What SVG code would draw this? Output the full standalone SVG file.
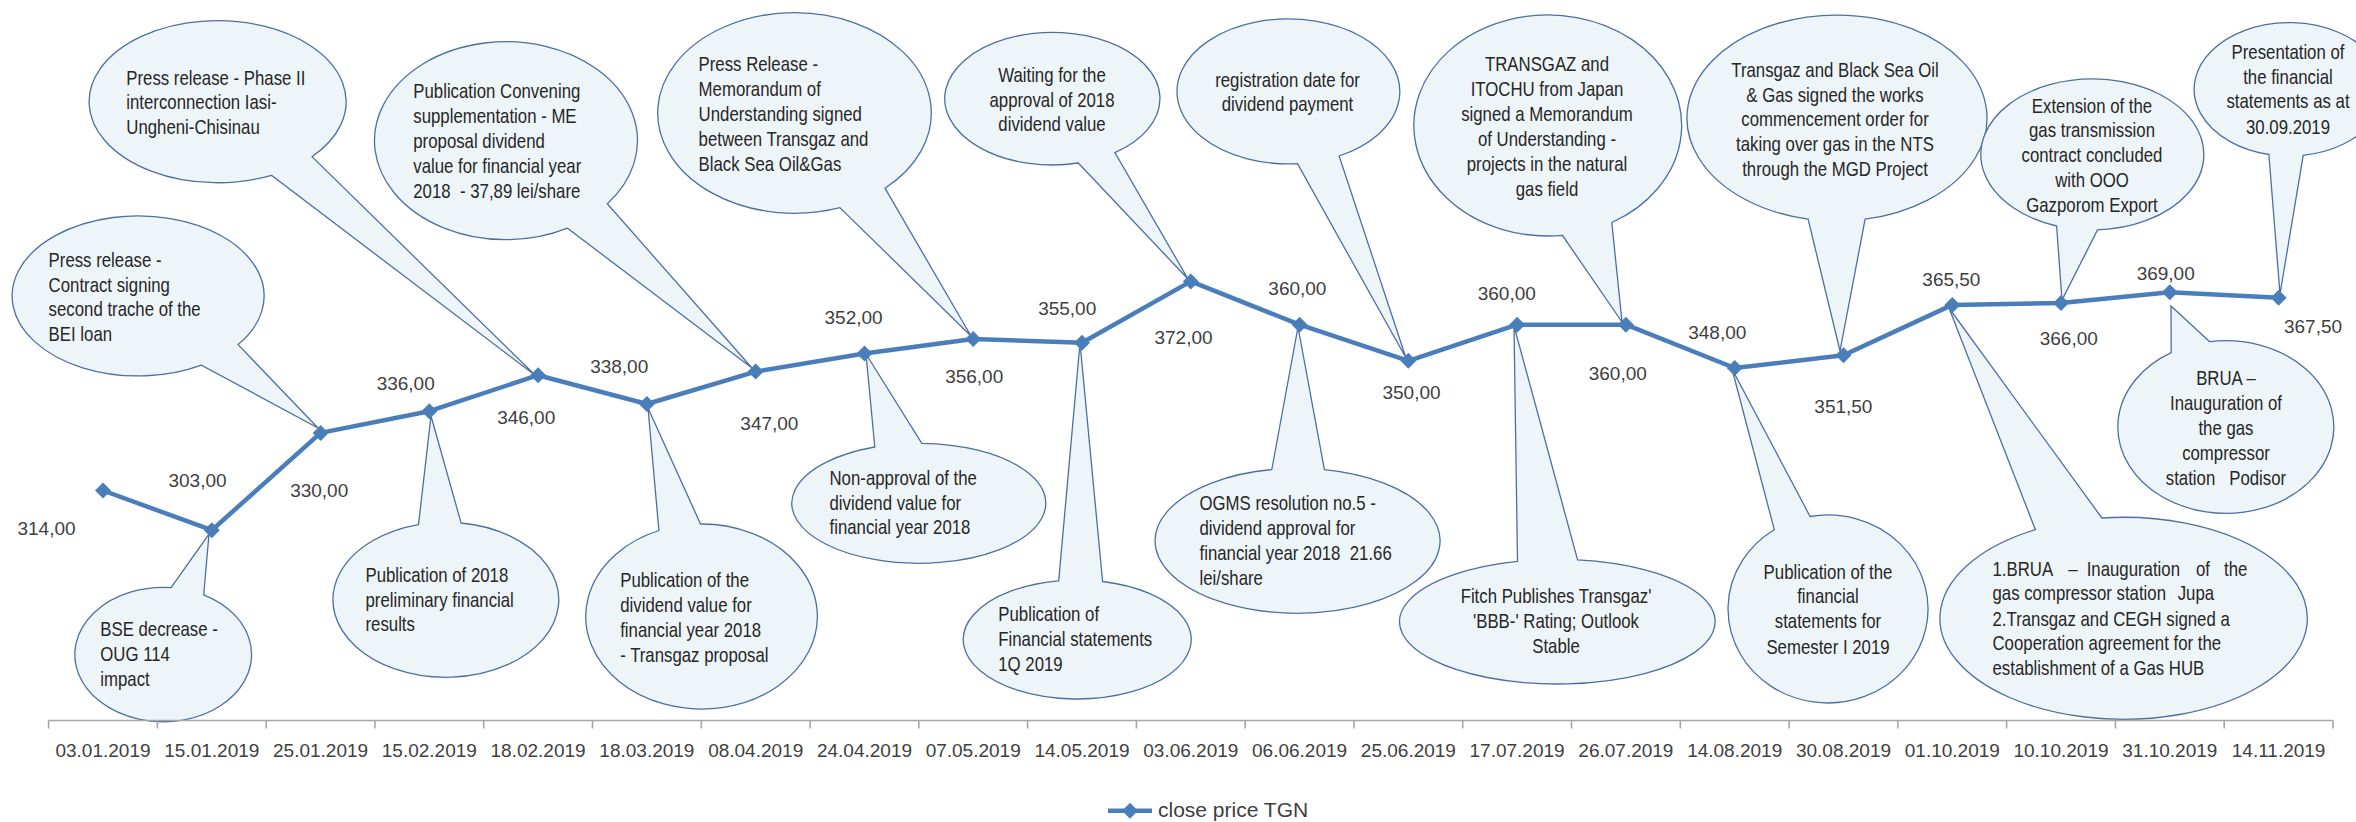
<svg xmlns="http://www.w3.org/2000/svg" width="2356" height="822" viewBox="0 0 2356 822">
<style>
.bub path{fill:#EEF5F9;stroke:#4C6FA3;stroke-width:1.3}
.bt{font-family:'Liberation Sans',sans-serif;font-size:20px;fill:#262626}
.c{text-anchor:middle}
.val{font-family:'Liberation Sans',sans-serif;font-size:19px;fill:#404040;text-anchor:middle}
.dt{font-family:'Liberation Sans',sans-serif;font-size:19px;fill:#404040;text-anchor:middle}
.axis{stroke:#A6A6A6;stroke-width:1.6;fill:none}
.series{fill:none;stroke:#4A7EBB;stroke-width:4.5;stroke-linejoin:round}
.leg{font-family:'Liberation Sans',sans-serif;font-size:21px;fill:#404040}
</style>
<defs>
<marker id="dm" markerUnits="userSpaceOnUse" markerWidth="20" markerHeight="20" refX="10" refY="10" overflow="visible">
<path d="M10,2 L18,10 L10,18 L2,10 Z" fill="#4A7EBB"/>
</marker>
</defs>
<rect width="2356" height="822" fill="#FFFFFF"/>

<g id="callouts" class="bub">
<g id="bubble-a"><path d="M201.4,365.1 A126,80 0 1 1 238.1,344.6 L318,428 Z"/>
<text class="bt" transform="matrix(0.84,0,0,1,7.776,0)"><tspan x="48.6" y="266.7">Press release -</tspan><tspan x="48.6" y="291.7">Contract signing</tspan><tspan x="48.6" y="316.3">second trache of the</tspan><tspan x="48.6" y="341">BEI loan</tspan></text></g>
<g id="bubble-b"><path d="M271.4,175.3 A128.5,81 0 1 1 312,156.7 L536,376 Z"/>
<text class="bt" transform="matrix(0.84,0,0,1,20.208,0)"><tspan x="126.3" y="85">Press release - Phase II</tspan><tspan x="126.3" y="109.5">interconnection Iasi-</tspan><tspan x="126.3" y="134">Ungheni-Chisinau</tspan></text></g>
<g id="bubble-c"><path d="M567.5,228.2 A131.5,99 0 1 1 607.3,203.8 L752,368 Z"/>
<text class="bt" xml:space="preserve" transform="matrix(0.84,0,0,1,66.128,0)"><tspan x="413.3" y="98.3">Publication Convening</tspan><tspan x="413.3" y="123.3">supplementation - ME</tspan><tspan x="413.3" y="148">proposal dividend</tspan><tspan x="413.3" y="173.3">value for financial year</tspan><tspan x="413.3" y="198.3">2018  - 37,89 lei/share</tspan></text></g>
<g id="bubble-d"><path d="M839.9,207.6 A136.8,100.3 0 1 1 885,188.2 L971,336 Z"/>
<text class="bt" transform="matrix(0.84,0,0,1,111.776,0)"><tspan x="698.6" y="71">Press Release -</tspan><tspan x="698.6" y="96">Memorandum of</tspan><tspan x="698.6" y="120.7">Understanding signed</tspan><tspan x="698.6" y="146">between Transgaz and</tspan><tspan x="698.6" y="170.7">Black Sea Oil&amp;Gas</tspan></text></g>
<g id="bubble-e"><path d="M1078.3,163 A107.6,66.3 0 1 1 1114.9,152.6 L1188,279 Z"/>
<text class="bt c" transform="matrix(0.84,0,0,1,168.32,0)"><tspan x="1052" y="81.7">Waiting for the</tspan><tspan x="1052" y="106.7">approval of 2018</tspan><tspan x="1052" y="131">dividend value</tspan></text></g>
<g id="bubble-f"><path d="M1297.5,163.7 A111.4,72.5 0 1 1 1339.1,156 L1406,358 Z"/>
<text class="bt c" transform="matrix(0.84,0,0,1,206,0)"><tspan x="1287.5" y="87.3">registration date for</tspan><tspan x="1287.5" y="111.5">dividend payment</tspan></text></g>
<g id="bubble-g"><path d="M1562.4,235.3 A133.9,110.5 0 1 1 1611.8,222.5 L1622,322 Z"/>
<text class="bt c" transform="matrix(0.84,0,0,1,247.52,0)"><tspan x="1547" y="70.7">TRANSGAZ and</tspan><tspan x="1547" y="95.7">ITOCHU from Japan</tspan><tspan x="1547" y="120.7">signed a Memorandum</tspan><tspan x="1547" y="145.7">of Understanding -</tspan><tspan x="1547" y="170.7">projects in the natural</tspan><tspan x="1547" y="195.7">gas field</tspan></text></g>
<g id="bubble-h"><path d="M1808.1,219.1 A150,103 0 1 1 1865.1,219.2 L1840,351 Z"/>
<text class="bt c" transform="matrix(0.84,0,0,1,293.6,0)"><tspan x="1835" y="76.7">Transgaz and Black Sea Oil</tspan><tspan x="1835" y="101.7">&amp; Gas signed the works</tspan><tspan x="1835" y="126.2">commencement order for</tspan><tspan x="1835" y="151">taking over gas in the NTS</tspan><tspan x="1835" y="176">through the MGD Project</tspan></text></g>
<g id="bubble-i"><path d="M2056.6,226 A111.5,75.5 0 1 1 2097.5,229.9 L2062,300 Z"/>
<text class="bt c" transform="matrix(0.84,0,0,1,334.72,0)"><tspan x="2092" y="112.7">Extension of the</tspan><tspan x="2092" y="137.3">gas transmission</tspan><tspan x="2092" y="162.3">contract concluded</tspan><tspan x="2092" y="187.3">with OOO</tspan><tspan x="2092" y="212.3">Gazporom Export</tspan></text></g>
<g id="bubble-j"><path d="M2268.9,154.5 A95,66.7 0 1 1 2303.2,155.3 L2280,294 Z"/>
<text class="bt c" transform="matrix(0.84,0,0,1,366.08,0)"><tspan x="2288" y="59.3">Presentation of</tspan><tspan x="2288" y="84">the financial</tspan><tspan x="2288" y="108.5">statements as at</tspan><tspan x="2288" y="134">30.09.2019</tspan></text></g>
<g id="bubble-k"><path d="M203.7,594.8 A88.4,67.2 0 1 1 171.1,587.6 L209,534 Z"/>
<text class="bt" transform="matrix(0.84,0,0,1,16.048,0)"><tspan x="100.3" y="636">BSE decrease -</tspan><tspan x="100.3" y="661">OUG 114</tspan><tspan x="100.3" y="686">impact</tspan></text></g>
<g id="bubble-l"><path d="M461.1,523 A112.9,77.5 0 1 1 418.5,524.6 L431,416 Z"/>
<text class="bt" transform="matrix(0.84,0,0,1,58.48,0)"><tspan x="365.5" y="581.7">Publication of 2018</tspan><tspan x="365.5" y="606.7">preliminary financial</tspan><tspan x="365.5" y="631">results</tspan></text></g>
<g id="bubble-m"><path d="M700.5,524 A115.8,92.5 0 1 1 658.9,530.5 L648,408 Z"/>
<text class="bt" transform="matrix(0.84,0,0,1,99.232,0)"><tspan x="620.2" y="586.7">Publication of the</tspan><tspan x="620.2" y="612">dividend value for</tspan><tspan x="620.2" y="636.7">financial year 2018</tspan><tspan x="620.2" y="661.7">- Transgaz proposal</tspan></text></g>
<g id="bubble-n"><path d="M921.8,443.3 A127,60 0 1 1 874.8,447 L866,354 Z"/>
<text class="bt" transform="matrix(0.84,0,0,1,132.72,0)"><tspan x="829.5" y="485">Non-approval of the</tspan><tspan x="829.5" y="510">dividend value for</tspan><tspan x="829.5" y="534.3">financial year 2018</tspan></text></g>
<g id="bubble-o"><path d="M1102.6,581.5 A114,59.5 0 1 1 1058.7,580.8 L1080,343 Z"/>
<text class="bt" transform="matrix(0.84,0,0,1,159.728,0)"><tspan x="998.3" y="620.7">Publication of</tspan><tspan x="998.3" y="646">Financial statements</tspan><tspan x="998.3" y="670.7">1Q 2019</tspan></text></g>
<g id="bubble-p"><path d="M1324.4,469.6 A142.5,72.5 0 1 1 1271.8,469.5 L1298,327 Z"/>
<text class="bt" xml:space="preserve" transform="matrix(0.84,0,0,1,191.92,0)"><tspan x="1199.5" y="510">OGMS resolution no.5 -</tspan><tspan x="1199.5" y="535">dividend approval for</tspan><tspan x="1199.5" y="560">financial year 2018  21.66</tspan><tspan x="1199.5" y="585">lei/share</tspan></text></g>
<g id="bubble-q"><path d="M1577.6,559.9 A157.8,62.3 0 1 1 1517.5,561.4 L1514,326 Z"/>
<text class="bt c" transform="matrix(0.84,0,0,1,248.96,0)"><tspan x="1556" y="603.3">Fitch Publishes Transgaz'</tspan><tspan x="1556" y="628.3">'BBB-' Rating; Outlook</tspan><tspan x="1556" y="653.3">Stable</tspan></text></g>
<g id="bubble-r"><path d="M1810.1,516.5 A100,94 0 1 1 1774.3,529.7 L1732,369 Z"/>
<text class="bt c" transform="matrix(0.84,0,0,1,292.48,0)"><tspan x="1828" y="579.3">Publication of the</tspan><tspan x="1828" y="603.5">financial</tspan><tspan x="1828" y="628.3">statements for</tspan><tspan x="1828" y="654">Semester I 2019</tspan></text></g>
<g id="bubble-s"><path d="M2101.9,518 A183.7,101 0 1 1 2035.4,529.7 L1949,308 Z"/>
<text class="bt" transform="matrix(0.84,0,0,1,318.8,0)"><tspan x="1992.5" y="575.7">1.BRUA</tspan><tspan x="2082.7" y="575.7">–</tspan><tspan x="2104.6" y="575.7">Inauguration</tspan><tspan x="2234.8" y="575.7">of</tspan><tspan x="2268.1" y="575.7">the</tspan><tspan x="1992.5" y="600.5">gas compressor station</tspan><tspan x="2213" y="600.5">Jupa</tspan><tspan x="1992.5" y="625.7">2.Transgaz and CEGH signed a</tspan><tspan x="1992.5" y="650.3">Cooperation agreement for the</tspan><tspan x="1992.5" y="675">establishment of a Gas HUB</tspan></text></g>
<g id="bubble-t"><path d="M2209.8,341.7 A108,86.3 0 1 1 2171.2,352.6 L2171,306 Z"/>
<text class="bt c" xml:space="preserve" transform="matrix(0.84,0,0,1,356.16,0)"><tspan x="2226" y="385">BRUA –</tspan><tspan x="2226" y="410">Inauguration of</tspan><tspan x="2226" y="435">the gas</tspan><tspan x="2226" y="460">compressor</tspan><tspan x="2226" y="485">station   Podisor</tspan></text></g>
</g>

<g id="axis">
<path class="axis" d="M48.6,720.5 H2333 M48.6,720.5 v8 M157.4,720.5 v8 M266.2,720.5 v8 M374.9,720.5 v8 M483.7,720.5 v8 M592.5,720.5 v8 M701.3,720.5 v8 M810.1,720.5 v8 M918.8,720.5 v8 M1027.6,720.5 v8 M1136.4,720.5 v8 M1245.2,720.5 v8 M1354,720.5 v8 M1462.7,720.5 v8 M1571.5,720.5 v8 M1680.3,720.5 v8 M1789.1,720.5 v8 M1897.9,720.5 v8 M2006.6,720.5 v8 M2115.4,720.5 v8 M2224.2,720.5 v8 M2333,720.5 v8"/>
<text class="dt" y="757"><tspan x="103">03.01.2019</tspan><tspan x="211.8">15.01.2019</tspan><tspan x="320.6">25.01.2019</tspan><tspan x="429.3">15.02.2019</tspan><tspan x="538.1">18.02.2019</tspan><tspan x="646.9">18.03.2019</tspan><tspan x="755.7">08.04.2019</tspan><tspan x="864.5">24.04.2019</tspan><tspan x="973.2">07.05.2019</tspan><tspan x="1082">14.05.2019</tspan><tspan x="1190.8">03.06.2019</tspan><tspan x="1299.6">06.06.2019</tspan><tspan x="1408.4">25.06.2019</tspan><tspan x="1517.1">17.07.2019</tspan><tspan x="1625.9">26.07.2019</tspan><tspan x="1734.7">14.08.2019</tspan><tspan x="1843.5">30.08.2019</tspan><tspan x="1952.3">01.10.2019</tspan><tspan x="2061">10.10.2019</tspan><tspan x="2169.8">31.10.2019</tspan><tspan x="2278.6">14.11.2019</tspan></text>
</g>

<g id="connectors">
<polyline class="series" marker-start="url(#dm)" marker-mid="url(#dm)" marker-end="url(#dm)" points="103,490.5 211.8,530.2 320.6,432.9 429.3,411.2 538.1,375.2 646.9,404 755.7,371.6 864.5,353.5 973.2,339.1 1082,342.7 1190.8,281.4 1299.6,324.7 1408.4,360.8 1517.1,324.7 1625.9,324.7 1734.7,368 1843.5,355.3 1952.3,304.9 2061,303.1 2169.8,292.3 2278.6,297.7"/>
</g>

<g id="values" class="val">
<text class="val" x="46.5" y="535">314,00</text>
<text class="val" x="197.5" y="487">303,00</text>
<text class="val" x="319.2" y="497.3">330,00</text>
<text class="val" x="405.7" y="390">336,00</text>
<text class="val" x="526.2" y="424">346,00</text>
<text class="val" x="619.2" y="373.3">338,00</text>
<text class="val" x="769.4" y="430">347,00</text>
<text class="val" x="853.6" y="324">352,00</text>
<text class="val" x="974.2" y="383.3">356,00</text>
<text class="val" x="1067.2" y="315">355,00</text>
<text class="val" x="1183.5" y="344">372,00</text>
<text class="val" x="1297.4" y="295">360,00</text>
<text class="val" x="1411.5" y="399.3">350,00</text>
<text class="val" x="1506.8" y="300">360,00</text>
<text class="val" x="1617.8" y="380">360,00</text>
<text class="val" x="1717.3" y="339.3">348,00</text>
<text class="val" x="1843.4" y="412.7">351,50</text>
<text class="val" x="1951.4" y="286">365,50</text>
<text class="val" x="2068.8" y="345">366,00</text>
<text class="val" x="2165.7" y="280">369,00</text>
<text class="val" x="2313" y="333.3">367,50</text>
</g>

<g id="legend">
<line x1="1108" y1="810.7" x2="1152" y2="810.7" stroke="#4A7EBB" stroke-width="4.5"/>
<path d="M1130,802.7 L1138,810.7 L1130,818.7 L1122,810.7 Z" fill="#4A7EBB"/>
<text class="leg" x="1158" y="817">close price TGN</text>
</g>
</svg>
